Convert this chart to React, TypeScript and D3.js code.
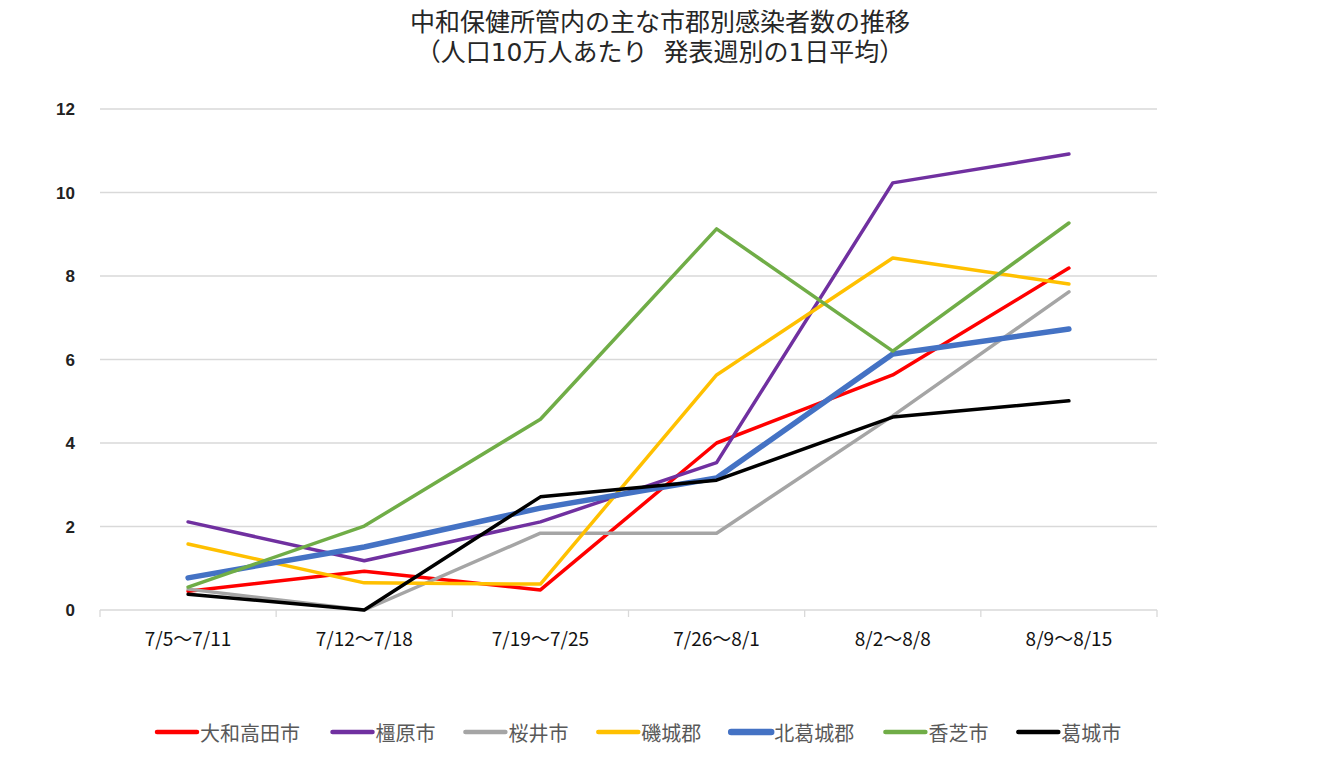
import React from "react";
import * as d3 from "d3";

const categories = ["7/5～7/11", "7/12～7/18", "7/19～7/25", "7/26～8/1", "8/2～8/8", "8/9～8/15"];
const yTicks = [0, 2, 4, 6, 8, 10, 12];

const seriesNames = ["大和高田市", "橿原市", "桜井市", "磯城郡", "北葛城郡", "香芝市", "葛城市"];
const seriesColors = ["#ff0000", "#7030a0", "#a5a5a5", "#ffc000", "#4472c4", "#70ad47", "#000000"];
const seriesWidths = [3.5, 3.5, 3.5, 3.5, 5.5, 3.5, 3.5];

const yamatotakada = [0.45, 0.93, 0.48, 4.0, 5.63, 8.19];
const kashihara = [2.11, 1.18, 2.11, 3.53, 10.23, 10.92];
const sakurai = [0.5, 0.0, 1.84, 1.84, 4.65, 7.62];
const shiki = [1.58, 0.65, 0.62, 5.63, 8.43, 7.81];
const kitakatsuragi = [0.77, 1.51, 2.44, 3.16, 6.13, 6.73];
const kashiba = [0.55, 2.01, 4.57, 9.13, 6.2, 9.27];
const katsuragi = [0.38, 0.0, 2.71, 3.11, 4.62, 5.01];

const seriesValues = [yamatotakada, kashihara, sakurai, shiki, kitakatsuragi, kashiba, katsuragi];

const W = 1319;
const H = 761;
const left = 100;
const right = 1157;
const top = 109;
const bottom = 610;

export default function App() {
  const x = d3.scaleBand<string>().domain(categories).range([left, right]).paddingInner(0).paddingOuter(0);
  const y = d3.scaleLinear().domain([0, 12]).range([bottom, top]);
  const line = d3
    .line<number>()
    .x((_, i) => (x(categories[i]) as number) + x.bandwidth() / 2)
    .y((v) => y(v));

  const tickXs = categories.map((c) => x(c) as number).concat([right]);

  const legendFont = 20;
  const lineLen = 40;
  const legendStart = 157;
  const legendGap = 26;
  let cursor = legendStart;
  const legendItems = seriesNames.map((name, i) => {
    const item = { name, i, x: cursor };
    cursor += lineLen + 3 + name.length * 21.3 + legendGap;
    return item;
  });

  const titleFont = "'DejaVu Sans', 'Noto Sans CJK JP', sans-serif";

  return (
    <svg
      width={W}
      height={H}
      style={{ position: "absolute", left: 0, top: 0, background: "#fff" }}
      fontFamily="'Noto Sans CJK JP', sans-serif"
    >
      <rect x={0} y={0} width={W} height={H} fill="#fff" />
      <text x={660} y={30.5} textAnchor="middle" fontSize={25} fill="#262626" fontFamily={titleFont}>
        中和保健所管内の主な市郡別感染者数の推移
      </text>
      <text
        x={660}
        y={61}
        textAnchor="middle"
        fontSize={25}
        fill="#262626"
        fontFamily={titleFont}
        style={{ whiteSpace: "pre" }}
      >
        {"（人口10万人あたり  発表週別の1日平均）"}
      </text>

      {yTicks.map((t) => (
        <g key={t}>
          <line x1={left} x2={right} y1={y(t)} y2={y(t)} stroke="#d9d9d9" strokeWidth={1.3} />
          <text
            x={75}
            y={y(t) + 6}
            textAnchor="end"
            fontSize={17}
            fontWeight="bold"
            fontFamily="'Liberation Sans', Arial, sans-serif"
            fill="#222"
          >
            {t}
          </text>
        </g>
      ))}

      {tickXs.map((tx, i) => (
        <line key={i} x1={tx} x2={tx} y1={bottom} y2={bottom + 7} stroke="#d9d9d9" strokeWidth={1.3} />
      ))}

      {categories.map((c) => (
        <text
          key={c}
          x={(x(c) as number) + x.bandwidth() / 2}
          y={646}
          textAnchor="middle"
          fontSize={19}
          fill="#111"
        >
          {c}
        </text>
      ))}

      {seriesValues.map((vals, i) => (
        <path
          key={seriesNames[i]}
          d={line(vals) || ""}
          fill="none"
          stroke={seriesColors[i]}
          strokeWidth={seriesWidths[i]}
          strokeLinejoin="round"
          strokeLinecap="round"
        />
      ))}

      {legendItems.map((it) => (
        <g key={it.name}>
          <line
            x1={it.x}
            x2={it.x + lineLen}
            y1={732}
            y2={732}
            stroke={seriesColors[it.i]}
            strokeWidth={seriesWidths[it.i] + 1}
            strokeLinecap="round"
          />
          <text x={it.x + lineLen + 3} y={741} fontSize={legendFont} fill="#595959">
            {it.name}
          </text>
        </g>
      ))}
    </svg>
  );
}
